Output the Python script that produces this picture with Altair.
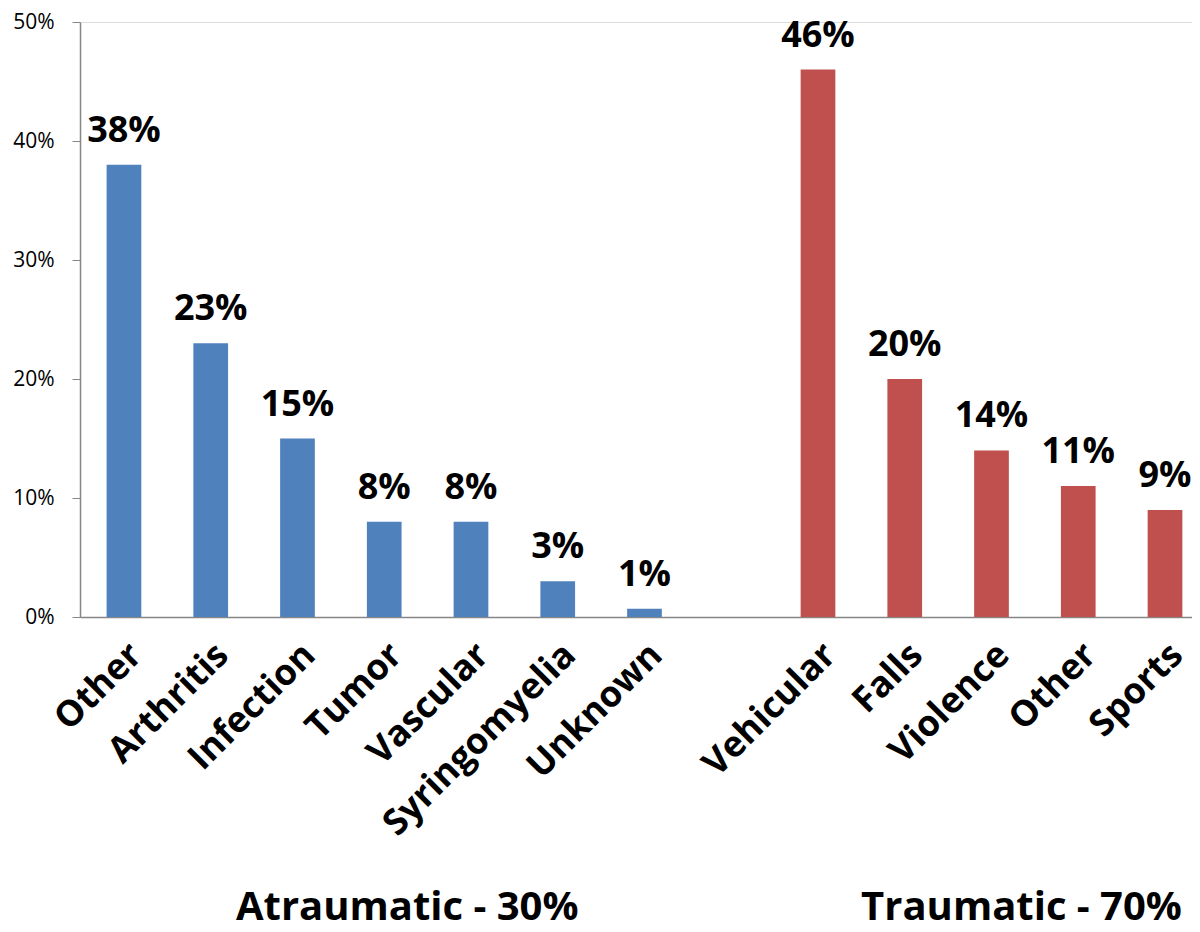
import altair as alt
import pandas as pd

# ---- data ----
atraumatic_cats = ["Other", "Arthritis", "Infection", "Tumor", "Vascular", "Syringomyelia", "Unknown"]
atraumatic_vals = [0.38, 0.23, 0.15, 0.08, 0.08, 0.03, 0.007]
atraumatic_labels = ["38%", "23%", "15%", "8%", "8%", "3%", "1%"]

traumatic_cats = ["Vehicular", "Falls", "Violence", "Other", "Sports"]
traumatic_vals = [0.46, 0.20, 0.14, 0.11, 0.09]
traumatic_labels = ["46%", "20%", "14%", "11%", "9%"]

group_titles = ["Atraumatic - 30%", "Traumatic - 70%"]
y_ticks = [0, 0.1, 0.2, 0.3, 0.4, 0.5]

# ---- build table ----
rows = []
idx = 0
for c, v, l in zip(atraumatic_cats, atraumatic_vals, atraumatic_labels):
    rows.append({"key": f"{idx:02d}|{c}", "value": v, "label": l, "group": "Atraumatic"})
    idx += 1
gap_key = f"{idx:02d}|"
idx += 1
for c, v, l in zip(traumatic_cats, traumatic_vals, traumatic_labels):
    rows.append({"key": f"{idx:02d}|{c}", "value": v, "label": l, "group": "Traumatic"})
    idx += 1
df = pd.DataFrame(rows)
domain = [r["key"] for r in rows[:len(atraumatic_cats)]] + [gap_key] + [r["key"] for r in rows[len(atraumatic_cats):]]

FONT = "Open Sans"
W, H = 1112, 595

xscale = alt.Scale(domain=domain, paddingInner=0.6, paddingOuter=0.209, align=0.734)
x = alt.X(
    "key:N",
    scale=xscale,
    sort=domain,
    axis=alt.Axis(
        title=None,
        labelExpr="split(datum.value, '|')[1]",
        labelAngle=-45,
        labelAlign="right",
        labelBaseline="top",
        labelPadding=20,
        labelFont=FONT,
        labelFontWeight="bold",
        labelFontSize=36,
        labelColor="black",
        labelLimit=0,
        ticks=False,
        domainColor="#868686",
        domainWidth=1.5,
        labelOverlap=False,
    ),
)
y = alt.Y(
    "value:Q",
    scale=alt.Scale(domain=[0, 0.5], nice=False),
    axis=alt.Axis(
        title=None,
        values=y_ticks,
        format=".0%",
        grid=False,
        ticks=True,
        tickSize=8,
        tickColor="#868686",
        domainColor="#868686",
        domainWidth=1.5,
        labelFont=FONT,
        labelFontSize=21,
        labelColor="black",
        labelPadding=18,
    ),
)

color = alt.Color(
    "group:N",
    scale=alt.Scale(domain=["Atraumatic", "Traumatic"], range=["#4F81BD", "#C0504D"]),
    legend=None,
)

base = alt.Chart(df)
bars = base.mark_bar().encode(x=x, y=y, color=color)
values = base.mark_text(
    font=FONT, fontWeight="bold", fontSize=36, color="black", baseline="alphabetic", dy=-23
).encode(x=alt.X("key:N", sort=domain), y="value:Q", text="label:N")

t1 = alt.Chart(pd.DataFrame({"key": [rows[3]["key"]], "t": [group_titles[0]]})).mark_text(
    font=FONT, fontWeight="bold", fontSize=40, color="black", baseline="alphabetic", dx=23
).encode(x=alt.X("key:N", sort=domain), y=alt.value(898), text="t:N")
t2 = alt.Chart(pd.DataFrame({"key": [rows[len(atraumatic_cats) + 2]["key"]], "t": [group_titles[1]]})).mark_text(
    font=FONT, fontWeight="bold", fontSize=40, color="black", baseline="alphabetic", dx=30
).encode(x=alt.X("key:N", sort=domain), y=alt.value(898), text="t:N")

chart = (
    alt.layer(bars, values, t1, t2)
    .properties(
        width=W,
        height=H,
        autosize=alt.AutoSizeParams(type="none"),
        padding={"left": 72, "top": 14, "right": 0, "bottom": 315},
    )
    .configure_view(stroke=None)
    .configure(background="white")
)

chart.save("out.html", embed_options={"renderer": "svg", "actions": False})
